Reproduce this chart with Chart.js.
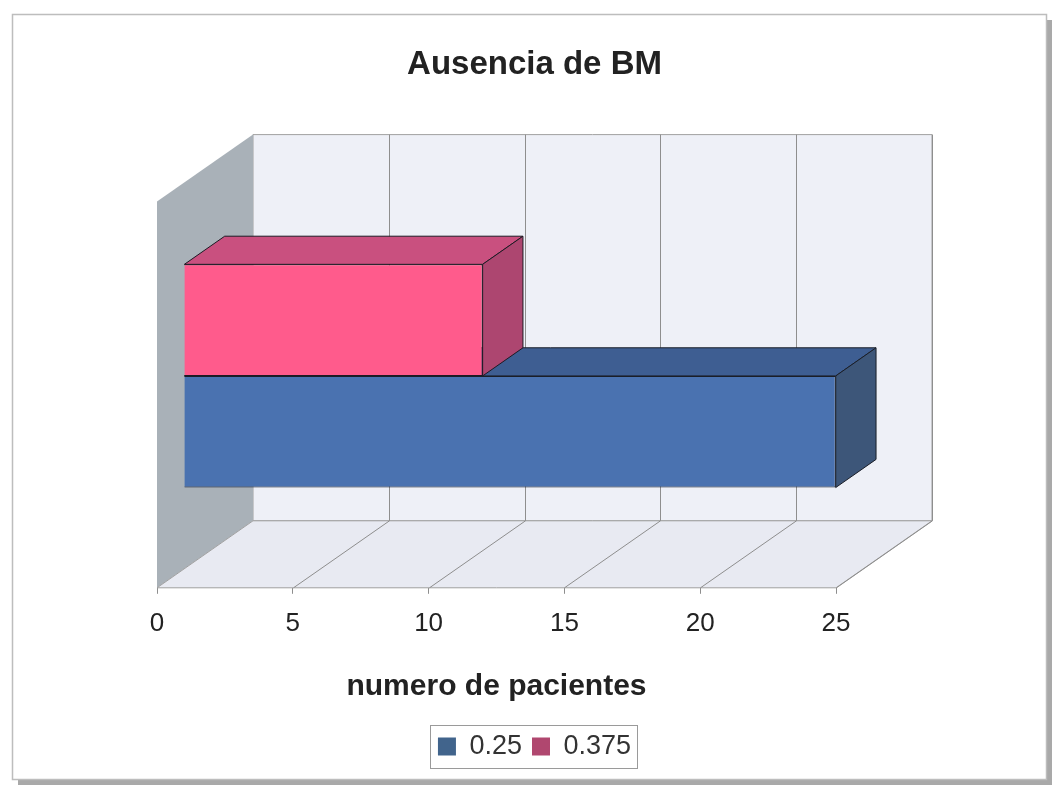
<!DOCTYPE html>
<html><head><meta charset="utf-8">
<script src="https://cdn.jsdelivr.net/npm/chart.js@4.4.0/dist/chart.umd.min.js"></script>
<style>html,body{margin:0;padding:0;background:#fff;overflow:hidden}</style>
</head><body>
<canvas id="c" width="1057" height="790"></canvas>
<script>
// ---- data ----
const categories = ['Ausencia de BM'];
const seriesNames = ['0.375', '0.25'];
const values375 = [11];
const values25 = [24];
const tickValues = [0, 5, 10, 15, 20, 25];
const chartTitle = 'Ausencia de BM';
const axisTitle = 'numero de pacientes';

const FONT = "'Liberation Sans', Arial, sans-serif";
const DEPTH = {dx: 96, dy: -67};
const BAR_FRONT = 0.28, BAR_BACK = 0.70;

function poly(ctx, pts, fill, stroke, lw) {
  ctx.beginPath();
  ctx.moveTo(pts[0][0], pts[0][1]);
  for (let i = 1; i < pts.length; i++) ctx.lineTo(pts[i][0], pts[i][1]);
  ctx.closePath();
  if (fill) { ctx.fillStyle = fill; ctx.fill(); }
  if (stroke) { ctx.strokeStyle = stroke; ctx.lineWidth = lw || 1; ctx.stroke(); }
}

const threeD = {
  id: 'threeD',
  beforeDraw(chart) {
    const ctx = chart.ctx;
    ctx.save();
    ctx.fillStyle = '#fff';
    ctx.fillRect(0, 0, chart.width, chart.height);
    ctx.fillStyle = '#a9a9a9';
    ctx.fillRect(18, 779, 1034, 6);
    ctx.fillRect(1046, 20, 6, 765);
    ctx.fillStyle = '#fff';
    ctx.fillRect(12, 14, 1034, 765);
    ctx.strokeStyle = '#bdbdbd';
    ctx.lineWidth = 1.5;
    ctx.strokeRect(12.5, 14.5, 1034, 765);
    ctx.restore();
  },
  beforeDatasetsDraw(chart) {
    const ctx = chart.ctx, a = chart.chartArea, x = chart.scales.x;
    const x0 = x.getPixelForValue(x.min), x1 = x.getPixelForValue(x.max);
    const top = a.top, bot = a.bottom, dx = DEPTH.dx, dy = DEPTH.dy;
    ctx.save();
    poly(ctx, [[x0+dx, top+dy], [x1+dx, top+dy], [x1+dx, bot+dy], [x0+dx, bot+dy]], '#eef0f7', '#a0a0a0');
    poly(ctx, [[x0, top], [x0+dx, top+dy], [x0+dx, bot+dy], [x0, bot]], '#a9b1b8', null);
    poly(ctx, [[x0, bot], [x1, bot], [x1+dx, bot+dy], [x0+dx, bot+dy]], '#e8eaf2', '#a0a0a0');
    ctx.strokeStyle = '#8e8e8e';
    ctx.lineWidth = 1;
    x.ticks.forEach(t => {
      if (t.value === x.min) return;
      const p = Math.round(x.getPixelForValue(t.value)) + 0.5;
      ctx.beginPath();
      ctx.moveTo(p, bot);
      ctx.lineTo(p + dx, bot + dy);
      ctx.lineTo(p + dx, top + dy);
      ctx.stroke();
    });
    const fx = dx * BAR_FRONT, fy = dy * BAR_FRONT, bx = dx * BAR_BACK, by = dy * BAR_BACK;
    for (let i = chart.data.datasets.length - 1; i >= 0; i--) {
      const ds = chart.data.datasets[i];
      chart.getDatasetMeta(i).data.forEach(el => {
        const p = el.getProps(['x', 'y', 'base', 'height'], true);
        const t = p.y - p.height / 2, b = p.y + p.height / 2;
        poly(ctx, [[p.base+fx, t+fy], [p.x+fx, t+fy], [p.x+bx, t+by], [p.base+bx, t+by]], ds.topColor, ds.borderColor, 1);
        poly(ctx, [[p.x+fx, t+fy], [p.x+bx, t+by], [p.x+bx, b+by], [p.x+fx, b+fy]], ds.sideColor, ds.borderColor, 1);
      });
    }
    ctx.translate(fx, fy);
  },
  afterDatasetsDraw(chart) {
    chart.ctx.restore();
  },
  afterDraw(chart) {
    const lg = chart.legend;
    if (!lg || !lg.legendHitBoxes.length) return;
    const hb = lg.legendHitBoxes;
    let l = Infinity, r = -Infinity, t = Infinity, b = -Infinity;
    hb.forEach(h => { l = Math.min(l, h.left); r = Math.max(r, h.left + h.width); t = Math.min(t, h.top); b = Math.max(b, h.top + h.height); });
    const ctx = chart.ctx;
    ctx.save();
    ctx.strokeStyle = '#9a9a9a';
    ctx.lineWidth = 1;
    ctx.strokeRect(Math.round(l - 8) + 0.5, Math.round(t - 8) + 0.5, Math.round(r - l + 14), Math.round(b - t + 16));
    ctx.restore();
  }
};

new Chart(document.getElementById('c'), {
  type: 'bar',
  data: {
    labels: categories,
    datasets: [
      { label: seriesNames[0], data: values375, backgroundColor: '#ff5b8c', topColor: '#c9507f', sideColor: '#ad4670', legendColor: '#b0476f', borderColor: '#1e1a24', borderWidth: 1, clip: false },
      { label: seriesNames[1], data: values25, backgroundColor: '#4a72b0', topColor: '#3e5e92', sideColor: '#3d5679', legendColor: '#41648c', borderColor: '#1a1e28', borderWidth: 1, clip: false }
    ]
  },
  options: {
    indexAxis: 'y',
    responsive: false,
    animation: false,
    events: [],
    layout: { padding: { left: 12, right: 0, top: 0, bottom: 20 } },
    datasets: { bar: { categoryPercentage: 0.578, barPercentage: 1 } },
    scales: {
      x: {
        type: 'linear', min: 0, max: 25,
        afterBuildTicks(s) { s.ticks = tickValues.map(v => ({ value: v })); },
        grid: { drawOnChartArea: false, drawTicks: true, tickLength: 6, color: '#8e8e8e' },
        border: { display: false },
        ticks: { color: '#222', font: { family: FONT, size: 26 }, padding: 14 },
        title: { display: true, text: axisTitle, color: '#222', font: { family: FONT, size: 30, weight: 'bold' }, padding: { top: 16, bottom: 18 } }
      },
      y: {
        display: true, position: 'left',
        grid: { display: false }, border: { display: false }, ticks: { display: false },
        afterFit(s) { s.width = 145; }
      },
      yr: {
        type: 'linear', display: true, position: 'right',
        grid: { display: false }, border: { display: false }, ticks: { display: false },
        afterFit(s) { s.width = 221; }
      }
    },
    plugins: {
      title: { display: true, text: chartTitle, color: '#222', font: { family: FONT, size: 33, weight: 'bold' }, padding: { top: 45, bottom: 117 } },
      legend: {
        position: 'bottom', reverse: true,
        labels: {
          color: '#333', font: { family: FONT, size: 27 }, boxWidth: 18, boxHeight: 18, padding: 10,
          generateLabels(chart) {
            const items = Chart.defaults.plugins.legend.labels.generateLabels(chart);
            items.forEach(it => { const ds = chart.data.datasets[it.datasetIndex]; it.fillStyle = ds.legendColor; it.strokeStyle = ds.legendColor; it.lineWidth = 0; });
            return items;
          }
        }
      },
      tooltip: { enabled: false }
    }
  },
  plugins: [threeD]
});
</script>
</body></html>
